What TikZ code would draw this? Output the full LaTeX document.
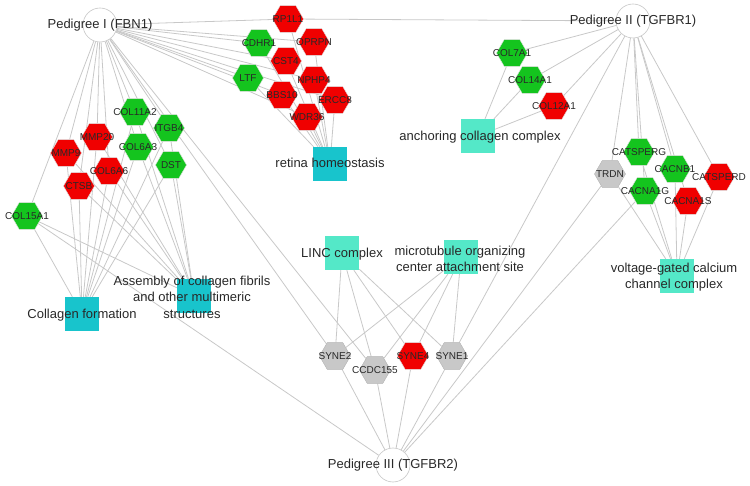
\documentclass[tikz,border=0pt]{standalone}
\usepackage{fontspec}
\setmainfont{Liberation Sans}
\usetikzlibrary{shapes.geometric,backgrounds}
\definecolor{hred}{RGB}{240,0,0}
\definecolor{hgreen}{RGB}{20,196,30}
\definecolor{hgray}{RGB}{200,200,200}
\definecolor{tdark}{RGB}{24,196,204}
\definecolor{tlight}{RGB}{84,232,200}
\definecolor{edgec}{RGB}{200,200,200}
\definecolor{txt}{RGB}{40,40,40}
\tikzset{
  hexa/.style={regular polygon, regular polygon sides=6, minimum size=31pt, inner sep=0pt, draw=white!75!gray, line width=0.4pt,
    label={[font=\fontsize{10}{11}\selectfont, text=txt, inner sep=0pt]center:#1}},
  redhex/.style={hexa={#1}, fill=hred},
  greenhex/.style={hexa={#1}, fill=hgreen},
  grayhex/.style={hexa={#1}, fill=hgray, draw=gray!60},
  term/.style={rectangle, minimum size=34pt, inner sep=0pt},
  darkterm/.style={term, fill=tdark},
  lightterm/.style={term, fill=tlight},
  termlabel/.style={font=\fontsize{13}{16.5}\selectfont, text=txt, align=center, inner sep=0pt},
  ped/.style={circle, minimum size=34pt, inner sep=0pt, fill=white, draw=gray!45, line width=0.6pt},
  edge/.style={draw=edgec, line width=0.8pt}
}
\begin{document}
\begin{tikzpicture}[x=1pt,y=-1pt]
\useasboundingbox (0,0) rectangle (750,486);
% pedigrees
\node[ped] (P1) at (100,25) {};
\node[ped] (P2) at (633,21) {};
\node[ped] (P3) at (393,465) {};
% top cluster
\node[redhex=RP1L1] (RP1L1) at (288,19) {};
\node[redhex=OPRPN] (OPRPN) at (314,42) {};
\node[greenhex=CDHR1] (CDHR1) at (259,43) {};
\node[redhex=CST4] (CST4) at (286,61) {};
\node[greenhex=LTF] (LTF) at (248,78) {};
\node[redhex=NPHP4] (NPHP4) at (314,80) {};
\node[redhex=BBS10] (BBS10) at (282,95) {};
\node[redhex=ERCC8] (ERCC8) at (335,100) {};
\node[redhex=WDR36] (WDR36) at (307,117) {};
\node[darkterm] (RET) at (330,164) {};
% left cluster
\node[greenhex=COL11A2] (COL11A2) at (135,112) {};
\node[greenhex=ITGB4] (ITGB4) at (169,128) {};
\node[redhex=MMP20] (MMP20) at (97,137) {};
\node[greenhex=COL6A3] (COL6A3) at (138,147) {};
\node[redhex=MMP9] (MMP9) at (66,153) {};
\node[greenhex=DST] (DST) at (171,165) {};
\node[redhex=COL6A6] (COL6A6) at (109,171) {};
\node[redhex=CTSB] (CTSB) at (79,186) {};
\node[greenhex=COL15A1] (COL15A1) at (27,216) {};
\node[darkterm] (CF) at (82,314) {};
\node[darkterm] (ASM) at (194,296) {};
% anchoring cluster
\node[greenhex=COL7A1] (COL7A1) at (512,53) {};
\node[greenhex=COL14A1] (COL14A1) at (530,80) {};
\node[redhex=COL12A1] (COL12A1) at (554,106) {};
\node[lightterm] (ANCH) at (478,136) {};
% calcium cluster
\node[greenhex=CATSPERG] (CATSPERG) at (639,152) {};
\node[grayhex=TRDN] (TRDN) at (610,174) {};
\node[greenhex=CACNB1] (CACNB1) at (675,169) {};
\node[redhex=CATSPERD] (CATSPERD) at (719,177) {};
\node[greenhex=CACNA1G] (CACNA1G) at (645,191) {};
\node[redhex=CACNA1S] (CACNA1S) at (688,201) {};
\node[lightterm] (VGCC) at (677,276) {};
% LINC cluster
\node[lightterm] (LINC) at (342,253) {};
\node[lightterm] (MTOC) at (461,257) {};
\node[grayhex=SYNE2] (SYNE2) at (335,356) {};
\node[grayhex=CCDC155] (CCDC155) at (375,370) {};
\node[redhex=SYNE4] (SYNE4) at (413,356) {};
\node[grayhex=SYNE1] (SYNE1) at (452,356) {};
% labels
\node[termlabel] (Lp1) at (P1) {Pedigree I (FBN1)};
\node[termlabel] (Lp2) at (P2) {Pedigree II (TGFBR1)};
\node[termlabel] (Lp3) at (P3) {Pedigree III (TGFBR2)};
\node[termlabel] (Lret) at (330,163) {retina homeostasis};
\node[termlabel] (Lcf) at (82,315) {Collagen formation};
\node[termlabel] (Lasm) at (192,297) {Assembly of collagen fibrils\\and other multimeric\\structures};
\node[termlabel] (Lanch) at (480,137) {anchoring collagen complex};
\node[termlabel] (Lvgcc) at (674,277) {voltage-gated calcium\\channel complex};
\node[termlabel] (Llinc) at (342,254) {LINC complex};
\node[termlabel] (Lmtoc) at (460,259) {microtubule organizing\\center attachment site};
% edges
\begin{scope}[on background layer]
\foreach \g in {RP1L1,CDHR1,OPRPN,CST4,LTF,NPHP4,BBS10,ERCC8,WDR36,COL11A2,ITGB4,MMP20,COL6A3,MMP9,DST,COL6A6,CTSB,COL15A1,SYNE2,CCDC155}
  \draw[edge] (P1) -- (\g);
\foreach \g in {RP1L1,COL7A1,COL14A1,COL12A1,SYNE1,TRDN,CATSPERG,CACNA1G,CACNB1,CACNA1S,CATSPERD}
  \draw[edge] (P2) -- (\g);
\foreach \g in {COL15A1,SYNE2,CCDC155,SYNE4,SYNE1,TRDN,CACNA1G}
  \draw[edge] (P3) -- (\g);
\foreach \g in {RP1L1,CDHR1,OPRPN,CST4,LTF,NPHP4,BBS10,ERCC8,WDR36}
  \draw[edge] (RET) -- (\g);
\foreach \g in {COL11A2,ITGB4,MMP20,COL6A3,MMP9,DST,COL6A6,CTSB,COL15A1}
  {\draw[edge] (CF) -- (\g); \draw[edge] (ASM) -- (\g);}
\foreach \g in {COL7A1,COL14A1,COL12A1}
  \draw[edge] (ANCH) -- (\g);
\foreach \g in {TRDN,CATSPERG,CACNA1G,CACNB1,CACNA1S,CATSPERD}
  \draw[edge] (VGCC) -- (\g);
\foreach \g in {SYNE2,CCDC155,SYNE4,SYNE1}
  {\draw[edge] (LINC) -- (\g); \draw[edge] (MTOC) -- (\g);}
\end{scope}
\end{tikzpicture}
\end{document}
